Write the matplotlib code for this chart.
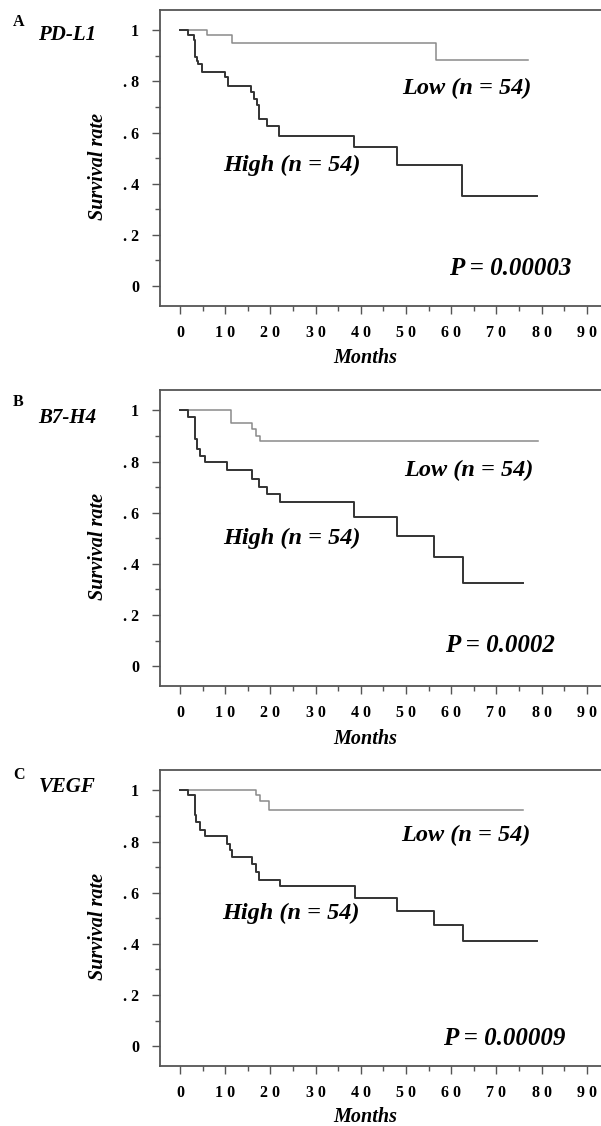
import matplotlib
matplotlib.use("Agg")
import matplotlib.pyplot as plt
from matplotlib.ticker import FixedLocator

# ---------------- data ----------------
panel_letters = ["A", "B", "C"]
panel_markers = ["PD-L1", "B7-H4", "VEGF"]
p_values = ["P = 0.00003", "P = 0.0002", "P = 0.00009"]
low_label = "Low (n = 54)"
high_label = "High (n = 54)"

a_low_t = [0, 5.9, 11.5, 56.7, 77.0]
a_low_s = [1.0, 0.981, 0.95, 0.885, 0.885]
a_high_t = [0, 1.85, 3.0, 3.33, 3.7, 4.07, 4.8, 10.0, 10.7, 15.6, 16.3, 17.0,
            17.4, 19.3, 21.9, 38.5, 48.0, 62.4, 79.0]
a_high_s = [1.0, 0.981, 0.963, 0.895, 0.882, 0.869, 0.837, 0.817, 0.784, 0.758,
            0.732, 0.706, 0.654, 0.627, 0.588, 0.542, 0.473, 0.353, 0.353]

b_low_t = [0, 11.3, 15.9, 16.9, 17.8, 79.3]
b_low_s = [1.0, 0.95, 0.928, 0.90, 0.879, 0.879]
b_high_t = [0, 1.85, 3.2, 3.7, 4.4, 5.6, 10.4, 15.9, 17.4, 19.3, 22.2, 38.5,
            47.9, 56.1, 62.6, 75.8]
b_high_s = [1.0, 0.974, 0.889, 0.850, 0.820, 0.798, 0.766, 0.733, 0.70, 0.675,
            0.642, 0.583, 0.509, 0.427, 0.323, 0.323]

c_low_t = [0, 16.7, 17.6, 19.6, 75.9]
c_low_s = [1.0, 0.981, 0.96, 0.925, 0.925]
c_high_t = [0, 1.85, 3.3, 3.6, 4.4, 5.6, 10.4, 11.1, 11.5, 15.9, 16.7, 17.4,
            22.2, 38.7, 47.9, 56.1, 62.6, 78.9]
c_high_s = [1.0, 0.981, 0.903, 0.877, 0.847, 0.821, 0.792, 0.766, 0.74, 0.711,
            0.681, 0.648, 0.625, 0.58, 0.53, 0.472, 0.41, 0.41]

x_ticks = [0, 10, 20, 30, 40, 50, 60, 70, 80, 90]
x_tick_labels = ["0", "1 0", "2 0", "3 0", "4 0", "5 0", "6 0", "7 0", "8 0", "9 0"]
y_ticks = [0, 0.2, 0.4, 0.6, 0.8, 1.0]
y_tick_labels = ["0", ". 2", ". 4", ". 6", ". 8", "1"]

# label positions (data coords) per panel
low_pos = [(63.5, 0.773), (63.9, 0.766), (63.2, 0.825)]
high_pos = [(24.8, 0.47), (24.8, 0.50), (24.5, 0.518)]
p_pos = [(73.1, 0.067), (70.9, 0.082), (71.8, 0.03)]
months_y = [-0.145, -0.145, -0.138]

curves = [
    (a_low_t, a_low_s, a_high_t, a_high_s),
    (b_low_t, b_low_s, b_high_t, b_high_s),
    (c_low_t, c_low_s, c_high_t, c_high_s),
]

# ---------------- figure ----------------
W, H = 601, 1126
fig = plt.figure(figsize=(W / 100, H / 100), dpi=100)
serif = ["Liberation Serif", "DejaVu Serif"]

axes_px = [(10, 305.6), (390, 686), (770, 1066)]  # top, bottom in pixels
letter_y = [22, 402, 775]
marker_y = [35, 418, 787]

spine_col = "#555555"
for i in range(3):
    top, bot = axes_px[i]
    ax = fig.add_axes([160 / W, 1 - bot / H, (W - 160 + 2) / W, (bot - top) / H])
    lt, ls, ht, hs = curves[i]
    ax.step(lt, ls, where="post", color="#8a8a8a", lw=1.1)
    ax.step(ht, hs, where="post", color="#333333", lw=1.4)
    ax.set_xlim(-4.44, 93.6)
    ax.set_ylim(-0.078, 1.08)
    for s in ["left", "bottom", "top"]:
        ax.spines[s].set_color(spine_col)
        ax.spines[s].set_linewidth(1.3)
    ax.spines["right"].set_visible(False)
    ax.set_xticks(x_ticks)
    ax.set_xticklabels(x_tick_labels, fontfamily=serif, fontweight="bold", fontsize=11.5)
    ax.xaxis.set_minor_locator(FixedLocator([5, 15, 25, 35, 45, 55, 65, 75, 85]))
    ax.set_yticks(y_ticks)
    ax.set_yticklabels(y_tick_labels, fontfamily=serif, fontweight="bold", fontsize=11.5)
    ax.yaxis.set_minor_locator(FixedLocator([0.1, 0.3, 0.5, 0.7, 0.9]))
    ax.tick_params(which="major", direction="out", length=6, width=1.0, color=spine_col, pad=8)
    ax.tick_params(which="minor", direction="out", length=3.5, width=1.0, color=spine_col)
    ax.tick_params(axis="y", which="major", pad=9)
    ax.set_ylabel("Survival rate", fontfamily=serif, fontweight="bold", fontstyle="italic", fontsize=14.5)
    ax.yaxis.set_label_coords(-0.118, 0.47)
    ax.set_xlabel("Months", fontfamily=serif, fontweight="bold", fontstyle="italic", fontsize=14.5)
    ax.xaxis.set_label_coords(0.4626, months_y[i])
    txt = dict(fontfamily=serif, fontweight="bold", fontstyle="italic", ha="center", va="center")
    ax.text(*low_pos[i], low_label, fontsize=17.5, **txt)
    ax.text(*high_pos[i], high_label, fontsize=17.5, **txt)
    ax.text(*p_pos[i], p_values[i], fontsize=18, **txt)

    fig.text(18.5 / W, 1 - letter_y[i] / H, panel_letters[i], fontfamily=serif,
             fontweight="bold", fontsize=11.5, ha="center", va="center")
    fig.text(67 / W, 1 - marker_y[i] / H, panel_markers[i], fontfamily=serif,
             fontweight="bold", fontstyle="italic", fontsize=15, ha="center", va="center")

fig.savefig("out.png", dpi=100)
